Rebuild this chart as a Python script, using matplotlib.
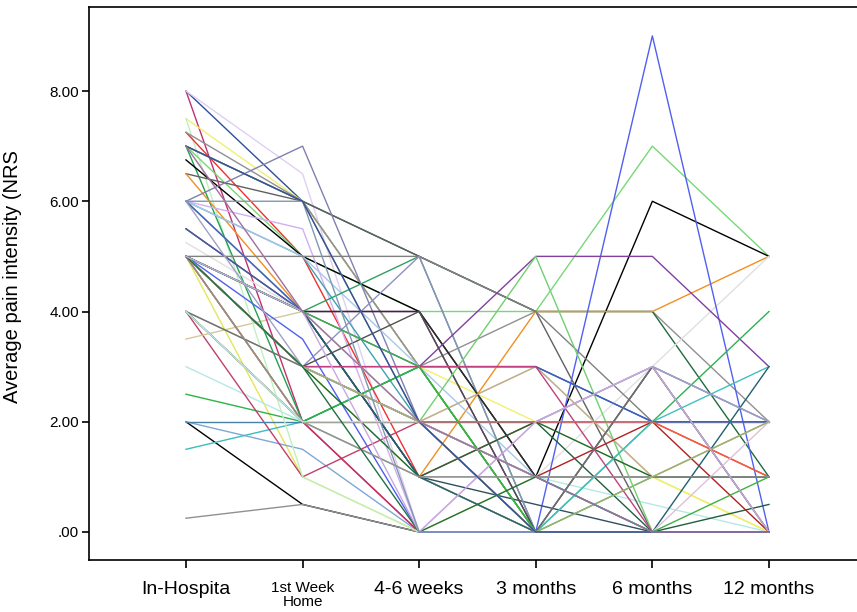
import matplotlib
matplotlib.use("Agg")
import matplotlib.pyplot as plt

plt.rcParams['font.family'] = ['Liberation Sans', 'DejaVu Sans']

# time points
time_labels = ["In-Hospita", "1st Week\nHome", "4-6 weeks", "3 months", "6 months", "12 months"]
y_ticks = [0, 2, 4, 6, 8]
y_tick_labels = [".00", "2.00", "4.00", "6.00", "8.00"]

# average pain score (NRS) per patient: in-hosp, 1wk, 4-6wk, 3m, 6m, 12m
pain_scores = [
    [2, 0.5, 0, 0, 0, 0],
    [0.25, 0.5, 0, 0, 0, 0],
    [5, 1, 0, 1, 1, 0],
    [2, 1.5, 0, 0, 0, 0],
    [1.5, 2, 2, 1, 0, 0],
    [2.5, 2, 3, 0, 1, 1],
    [3, 2, 1, 1, 0.5, 0],
    [4, 1, 2, 0, 0, 0],
    [4, 2, 0, 0, 0, 0],
    [4, 3, 2, 1, 1, 1],
    [3.5, 4, 2, 3, 1, 2],
    [2, 2, 2, 2, 2, 2],
    [8, 2, 0, 0, 0, 0],
    [8, 6, 3, 3, 2, 2],
    [8, 6.5, 0, 0, 0, 0],
    [7.5, 6, 3, 2, 1, 0],
    [7.5, 1, 0, 0, 0, 0],
    [7.25, 5, 1, 2, 2, 1],
    [7.25, 6, 3, 4, 4, 2],
    [7, 2, 3, 0, 0, 0],
    [7, 5, 4, 4, 7, 5],
    [7, 6, 5, 4, 4, 1],
    [6.75, 5, 4, 1, 6, 5],
    [6.5, 6, 5, 4, 0, 0],
    [6.5, 4, 1, 4, 4, 5],
    [6, 7, 2, 2, 3, 2],
    [6, 5.5, 0, 2, 2, 2],
    [6, 5, 2, 1, 0, 0],
    [6, 5, 3, 1, 0, 0],
    [6, 4, 1, 0, 0, 0],
    [6, 4, 2, 1, 0, 0],
    [5.5, 4, 4, 0, 0, 0],
    [5.5, 4, 1, 0, 0, 0],
    [5.25, 4, 2, 1, 3, 5],
    [5, 3, 1, 0, 0, 0],
    [5, 3.5, 0, 0, 9, 0],
    [5, 4, 5, 0, 0, 0],
    [5, 4, 1, 0.5, 0, 0],
    [5, 5, 5, 4, 2, 2],
    [5, 3, 5, 0, 3, 2],
    [5, 4, 4, 1, 1, 1],
    [5, 3, 3, 5, 5, 3],
    [5, 3, 4, 0, 3, 0],
    [5, 3, 2, 5, 0, 0],
    [5, 2, 3, 0, 2, 4],
    [5, 2, 2, 3, 1, 1],
    [5, 3, 1, 2, 1, 1],
    [4, 2, 2, 2, 0, 0.5],
    [5, 3, 2, 1, 2, 0],
    [4, 2, 1, 1, 1, 2],
    [5, 3, 2, 0, 2, 3],
    [5, 4, 1, 0, 0, 3],
    [6, 4, 3, 3, 2, 2],
    [5, 3, 3, 3, 0, 0],
    [6, 3, 2, 2, 3, 2],
    [5, 2, 2, 2, 2, 1],
    [4, 3, 2, 0, 3, 0],
    [5, 3, 2, 0, 0, 2],
    [5, 4, 3, 0, 0, 1],
    [5, 2, 1, 1, 1, 1],
    [4, 2, 2, 1, 0, 0],
    [5, 3, 2, 0, 1, 2],
    [5, 3, 0, 1, 0, 0],
    [5, 4, 0, 2, 3, 0],
    [6, 6, 0, 0, 0, 0],
    [7, 6, 2, 0, 0, 0],
    [7, 6, 2, 0, 0, 0],
    [7, 4, 2, 1, 0, 0],
]

line_colors = [
    "#000000", "#909090", "#e5e55a", "#7fa7d6", "#3cbcbc", "#2db34a",
    "#b5e8e8", "#c0406a", "#e03030", "#9fb89f", "#d4c89a", "#4a7fa8",
    "#c03070", "#2d4f9a", "#e0d0f0", "#f0f070", "#c0f0c0", "#f03030",
    "#909090", "#22a050", "#78d878", "#1f6b3f", "#000000", "#606060",
    "#f09020", "#8080b0", "#d0b0f0", "#40a0b0", "#a8c8e8", "#806060",
    "#a0d8d8", "#702080", "#4060a0", "#e0e0e0", "#d8e870", "#5060f0",
    "#30a060", "#305060", "#808080", "#9090c0", "#303030", "#8040a0",
    "#505050", "#70d070", "#30b050", "#c0b090", "#1a6a3a", "#1f5f3f",
    "#b02020", "#b0c0a0", "#40c0c0", "#206070", "#4060c0", "#c04080",
    "#a0a0c8", "#f06040", "#707070", "#e0c0d8", "#40b040", "#909090",
    "#b5e8e8", "#a0b070", "#207040", "#c8a8e0", "#8098b0", "#a09870",
    "#3050a0", "#a070a0",
]

fig = plt.figure(figsize=(8.57, 6.12), dpi=100)
ax = fig.add_axes([88.5 / 857, 1 - 560 / 612, 1 - 88.5 / 857, 553 / 612])

x = list(range(len(time_labels)))
for scores, col in zip(pain_scores, line_colors):
    ax.plot(x, scores, color=col, linewidth=1.0)

ax.set_xlim(-0.836, 5.755)
ax.set_ylim(-0.508, 9.524)

ax.set_xticks(x)
ax.set_xticklabels(time_labels, fontsize=14)
ax.get_xticklabels()[1].set_fontsize(11)
ax.get_xticklabels()[1].set_linespacing(1.0)
ax.set_yticks(y_ticks)
ax.set_yticklabels(y_tick_labels, fontsize=11)

ax.tick_params(axis='x', length=6, width=1.2, pad=9)
ax.tick_params(axis='y', length=5, width=1.2, pad=2)

ax.spines['right'].set_visible(False)
for s in ['left', 'bottom', 'top']:
    ax.spines[s].set_linewidth(1.2)

ax.set_ylabel("Average pain intensity (NRS", fontsize=14.5)
ax.yaxis.set_label_coords(-0.0865, 0.513)

fig.savefig("out.png", dpi=100)
